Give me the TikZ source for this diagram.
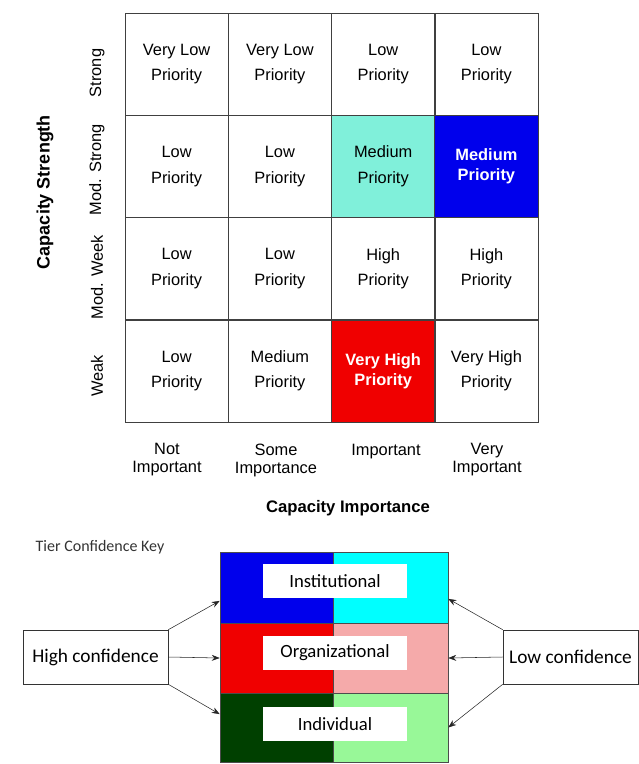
\documentclass[tikz,border=0pt]{standalone}
\usepackage{fontspec}
\setmainfont{Liberation Sans}
\newfontfamily\keyfont{Carlito}
\usetikzlibrary{arrows.meta,shapes}
\definecolor{medaqua}{RGB}{128,240,218}
\definecolor{medblue}{RGB}{0,0,236}
\definecolor{vhred}{RGB}{240,0,0}
\definecolor{tiercyan}{RGB}{0,255,255}
\definecolor{tierdkgreen}{RGB}{0,64,0}
\definecolor{tierpink}{RGB}{245,170,170}
\definecolor{tierltgreen}{RGB}{152,248,152}
\tikzset{
    cell/.style={rectangle, draw=black!75, minimum width=77.5pt,
      minimum height=76.7pt, inner sep=0pt, align=center,
      font=\fontsize{12.3}{19}\selectfont},
    hotcell/.style={cell, text=white, font=\fontsize{12.3}{15}\selectfont\bfseries},
    rowlab/.style={rotate=90, font=\fontsize{12.3}{14}\selectfont},
    collab/.style={anchor=north, align=center, font=\fontsize{12.3}{13.5}\selectfont},
    band/.style={rectangle, draw=black!70, inner sep=0pt, minimum height=52.5pt},
    tier/.style={rectangle, fill=white, minimum width=108pt, minimum height=26pt,
      inner sep=0pt, font=\keyfont\fontsize{14}{16}\selectfont},
    confbox/.style={rectangle, draw=black!80, minimum height=40.5pt, inner sep=0pt,
      font=\keyfont\fontsize{14.5}{16}\selectfont},
    keyarrow/.style={-{Stealth[length=6pt,width=4.5pt]}, black!85, thin},
}

\begin{document}
\begin{tikzpicture}[x=0.75pt, y=-0.75pt]
\useasboundingbox (0,0) rectangle (639,764);

% priority grid
\node[cell] (c11) at (176.6,64.1) {Very Low\\Priority};
\node[cell] (c12) at (279.9,64.1) {Very Low\\Priority};
\node[cell] (c13) at (383.2,64.1) {Low\\Priority};
\node[cell] (c14) at (486.4,64.1) {Low\\Priority};
\node[cell] (c21) at (176.6,166.4) {Low\\Priority};
\node[cell] (c22) at (279.9,166.4) {Low\\Priority};
\node[cell, fill=medaqua] (c23) at (383.2,166.4) {Medium\\Priority};
\node[hotcell, fill=medblue] (c24) at (486.4,166.4) {Medium\\Priority};
\node[cell] (c31) at (176.6,268.6) {Low\\Priority};
\node[cell] (c32) at (279.9,268.6) {Low\\Priority};
\node[cell] (c33) at (383.2,268.6) {High\\Priority};
\node[cell] (c34) at (486.4,268.6) {High\\Priority};
\node[cell] (c41) at (176.6,370.9) {Low\\Priority};
\node[cell] (c42) at (279.9,370.9) {Medium\\Priority};
\node[hotcell, fill=vhred] (c43) at (383.2,370.9) {Very High\\Priority};
\node[cell] (c44) at (486.4,370.9) {Very High\\Priority};

% axis labels
\node[rowlab] (r1) at (97,73) {Strong};
\node[rowlab] (r2) at (97,170) {Mod. Strong};
\node[rowlab] (r3) at (97,277) {Mod. Week};
\node[rowlab] (r4) at (97,376) {Weak};
\node[rotate=90, font=\fontsize{13.5}{15}\selectfont\bfseries] (ystr) at (45,192) {Capacity Strength};
\node[collab] (k1) at (167,439) {Not\\Important};
\node[collab] (k2) at (276,439) {Some\\Importance};
\node[collab] (k3) at (386,439) {Important};
\node[collab] (k4) at (487,439) {Very\\Important};
\node[font=\fontsize{12.5}{14}\selectfont\bfseries] (ximp) at (348,508) {Capacity Importance};

% tier confidence key
\node[text=black!80, font=\keyfont\fontsize{12}{14}\selectfont] (keytitle) at (100,547) {Tier Confidence Key};
\node[band, fill=medblue, minimum width=84.75pt, minimum height=53.25pt] (instL) at (276.5,587.5) {};
\node[band, fill=tiercyan, minimum width=86.25pt, minimum height=53.25pt] (instR) at (390.5,587.5) {};
\node[band, fill=vhred, minimum width=84.75pt] (orgL) at (276.5,658) {};
\node[band, fill=tierpink, minimum width=86.25pt] (orgR) at (390.5,658) {};
\node[band, fill=tierdkgreen, minimum width=84.75pt, minimum height=51.75pt] (indL) at (276.5,727.5) {};
\node[band, fill=tierltgreen, minimum width=86.25pt, minimum height=51.75pt] (indR) at (390.5,727.5) {};
\node[tier] (inst) at (335,581) {Institutional};
\node[tier] (org) at (335,653) {Organizational};
\node[tier] (ind) at (335,724) {Individual};

\node[confbox, minimum width=108.75pt] (hi) at (95.5,657) {High confidence};
\node[confbox, minimum width=101.25pt] (lo) at (570.5,657) {Low confidence};

\draw[keyarrow] (hi.north east) -- ([yshift=-10pt]instL.west);
\draw[keyarrow] (hi.east) -- (orgL.west);
\draw[keyarrow] (hi.south east) -- ([yshift=10pt]indL.west);
\draw[keyarrow] (lo.north west) -- ([yshift=-8.5pt]instR.east);
\draw[keyarrow] (lo.west) -- (orgR.east);
\draw[keyarrow] (lo.south west) -- (indR.east);
\end{tikzpicture}
\end{document}
